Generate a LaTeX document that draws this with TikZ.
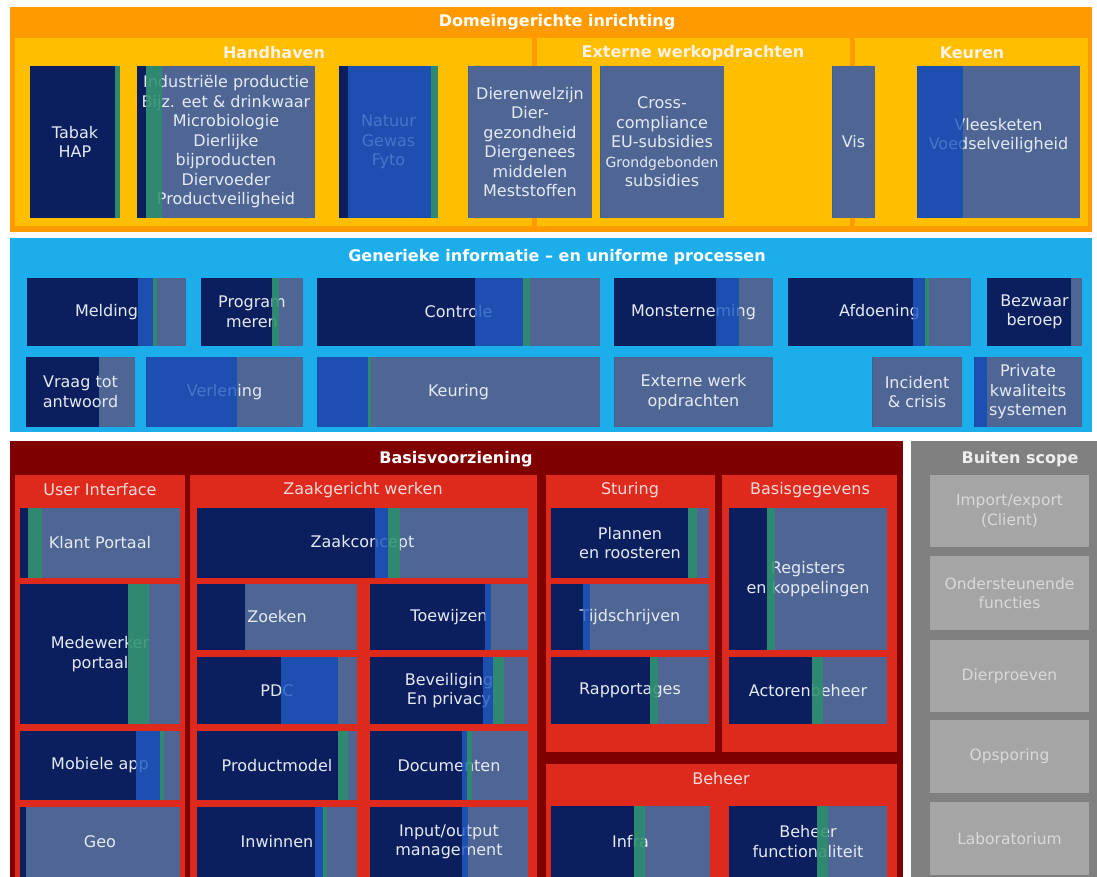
\documentclass[tikz,border=0pt]{standalone}
\usepackage{fontspec}
\setmainfont{DejaVu Sans}
\usepackage{tikz}

\definecolor{navy}{HTML}{0B1F5E}
\definecolor{brblue}{HTML}{0A47BC}
\definecolor{tgreen}{HTML}{2A8F6A}
\definecolor{slate}{HTML}{4F6695}
\definecolor{orouter}{HTML}{FF9A00}
\definecolor{orinner}{HTML}{FFBE00}
\definecolor{skyblue}{HTML}{1CAEEA}
\definecolor{darkred}{HTML}{7E0000}
\definecolor{redpanel}{HTML}{DE2A1C}
\definecolor{greyout}{HTML}{808080}
\definecolor{greyin}{HTML}{A5A5A5}
\definecolor{lbltext}{HTML}{E4EAF6}

% block: name, x1, y1, x2, y2, end navy, end blue, end green, text
\newcommand{\blk}[9]{%
  \fill[slate] (#2,#3) rectangle (#4,#5);
  \fill[navy] (#2,#3) rectangle (#6,#5);
  \node[lbl] (#1) at ({(#2+#4)/2},{(#3+#5)/2}) {#9};
  \fill[brblue, opacity=0.72] (#6,#3) rectangle (#7,#5);
  \fill[tgreen, opacity=0.85] (#7,#3) rectangle (#8,#5);
}
% grey box: name, y1, y2, text
\newcommand{\gbox}[4]{%
  \fill[greyin] (930,#2) rectangle (1089,#3);
  \node[gtext] (#1) at (1009.5,{(#2+#3)/2}) {#4};
}

\begin{document}
\begin{tikzpicture}[x=1pt, y=-1pt,
  lbl/.style={text=lbltext, align=center, inner sep=0pt, font=\fontsize{16}{19.5}\selectfont},
  hdr/.style={text=white, inner sep=0pt, font=\bfseries\fontsize{16}{19}\selectfont},
  subhdr/.style={text=red!15!white, inner sep=0pt, font=\fontsize{16}{19}\selectfont},
  gtext/.style={text=white!85!black, align=center, inner sep=0pt, font=\fontsize{15.5}{19.5}\selectfont}]
	\fill[white] (0,0) rectangle (1097,877);
	\useasboundingbox (0,0) rectangle (1097,877);

	% domeingerichte inrichting
	\fill[orouter] (10,7) rectangle (1092,232);
	\node[hdr] (domein) at (557,22) {Domeingerichte inrichting};
	\fill[orinner] (15,38) rectangle (532,226);
	\fill[orinner] (537,38) rectangle (850,226);
	\fill[orinner] (855,38) rectangle (1088,226);
	\node[hdr, text=white!90!orange] (handhaven) at (274,53) {Handhaven};
	\node[hdr, text=white!90!orange] (externe) at (693,53) {Externe werkopdrachten};
	\node[hdr, text=white!90!orange] (keuren) at (972,53) {Keuren};

	\blk{tabak}{30}{66}{120}{218}{115}{115}{120}{Tabak\\HAP}
	\blk{industrie}{137}{66}{315}{218}{146}{146}{162}{Industriële productie\\Bijz. eet \& drinkwaar\\Microbiologie\\Dierlijke\\bijproducten\\Diervoeder\\Productveiligheid}
	\blk{natuur}{339}{66}{438}{218}{348}{431}{438}{Natuur\\Gewas\\Fyto}
	\blk{dieren}{468}{66}{592}{218}{468}{468}{468}{Dierenwelzijn\\Dier-\\gezondheid\\Diergenees\\middelen\\Meststoffen}
	\blk{cross}{600}{66}{724}{218}{600}{600}{600}{Cross-\\compliance\\EU-subsidies\\{\fontsize{14}{19.5}\selectfont Grondgebonden}\\subsidies}
	\blk{vis}{832}{66}{875}{218}{832}{832}{832}{Vis}
	\blk{vlees}{917}{66}{1080}{218}{917}{963}{963}{Vleesketen\\Voedselveiligheid\\[-3pt]}

	% generieke processen
	\fill[skyblue] (10,238) rectangle (1092,432);
	\node[hdr] (generiek) at (557,257) {Generieke informatie -- en uniforme processen};

	\blk{melding}{27}{278}{186}{346}{138}{153}{157}{Melding}
	\blk{progr}{201}{278}{303}{346}{272}{272}{279}{Program\\meren}
	\blk{controle}{317}{278}{600}{346}{475}{523}{530}{Controle}
	\blk{monster}{614}{278}{773}{346}{716}{739}{739}{Monsterneming}
	\blk{afdoening}{788}{278}{971}{346}{913}{925}{929}{Afdoening}
	\blk{bezwaar}{987}{278}{1082}{346}{1071}{1071}{1071}{Bezwaar\\beroep}
	\blk{vraag}{26}{357}{135}{427}{99}{99}{99}{Vraag tot\\antwoord}
	\blk{verlening}{146}{357}{303}{427}{146}{237}{237}{Verlening}
	\blk{keuring}{317}{357}{600}{427}{317}{368}{371}{Keuring}
	\blk{extwerk}{614}{357}{773}{427}{614}{614}{614}{Externe werk\\opdrachten}
	\blk{incident}{872}{357}{962}{427}{872}{872}{872}{Incident\\\& crisis}
	\blk{private}{974}{357}{1082}{427}{974}{987}{987}{Private\\kwaliteits\\systemen}

	% basisvoorziening
	\fill[darkred] (10,441) rectangle (903,877);
	\node[hdr] (basis) at (456,459) {Basisvoorziening};
	\fill[redpanel] (15,475) rectangle (185,877);
	\fill[redpanel] (190,475) rectangle (537,877);
	\fill[redpanel] (546,475) rectangle (715,752);
	\fill[redpanel] (722,475) rectangle (897,752);
	\fill[redpanel] (546,764) rectangle (897,877);
	\node[subhdr] (ui) at (100,490) {User Interface};
	\node[subhdr] (zaak) at (363,490) {Zaakgericht werken};
	\node[subhdr] (sturing) at (630,490) {Sturing};
	\node[subhdr] (basisgeg) at (810,490) {Basisgegevens};
	\node[subhdr] (beheer) at (721,779) {Beheer};

	\blk{klant}{20}{508}{180}{578}{28}{28}{42}{Klant Portaal}
	\blk{medewerker}{20}{584}{180}{724}{128}{128}{149}{Medewerker\\portaal}
	\blk{mobiel}{20}{731}{180}{800}{136}{160}{164}{Mobiele app}
	\blk{geo}{20}{807}{180}{877}{26}{26}{26}{Geo}

	\blk{zaakconcept}{197}{508}{528}{578}{375}{388}{400}{Zaakconcept}
	\blk{zoeken}{197}{584}{357}{650}{245}{245}{245}{Zoeken}
	\blk{toewijzen}{370}{584}{528}{650}{485}{491}{491}{Toewijzen}
	\blk{pdc}{197}{657}{357}{724}{281}{338}{338}{PDC}
	\blk{beveiliging}{370}{657}{528}{724}{483}{493}{504}{Beveiliging\\En privacy}
	\blk{productmodel}{197}{731}{357}{800}{338}{338}{348}{Productmodel}
	\blk{documenten}{370}{731}{528}{800}{462}{467}{472}{Documenten}
	\blk{inwinnen}{197}{807}{357}{877}{315}{323}{327}{Inwinnen}
	\blk{inout}{370}{807}{528}{877}{462}{468}{468}{Input/output\\management}

	\blk{plannen}{551}{508}{709}{578}{688}{688}{697}{Plannen\\en roosteren}
	\blk{tijd}{551}{584}{709}{650}{583}{590}{590}{Tijdschrijven}
	\blk{rapport}{551}{657}{709}{724}{650}{650}{658}{Rapportages}
	\blk{registers}{729}{508}{887}{650}{767}{767}{775}{Registers\\en koppelingen}
	\blk{actoren}{729}{657}{887}{724}{812}{812}{823}{Actorenbeheer}
	\blk{infra}{551}{806}{710}{877}{634}{634}{645}{Infra}
	\blk{behfunc}{729}{806}{887}{877}{817}{817}{828}{Beheer\\functionaliteit}

	% buiten scope
	\fill[greyout] (911,441) rectangle (1097,877);
	\node[hdr, text=white!93!black] (buiten) at (1020,459) {Buiten scope};
	\gbox{impexp}{475}{547}{Import/export\\(Client)}
	\gbox{onderst}{556}{630}{Ondersteunende\\functies}
	\gbox{dierproef}{640}{712}{Dierproeven}
	\gbox{opsporing}{720}{793}{Opsporing}
	\gbox{lab}{802}{875}{Laboratorium}
\end{tikzpicture}
\end{document}
